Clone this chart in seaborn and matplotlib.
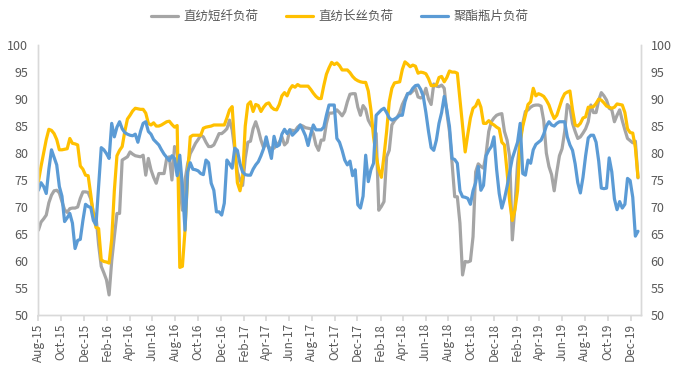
import matplotlib
matplotlib.use("Agg")
import matplotlib.pyplot as plt
from matplotlib.lines import Line2D
import seaborn as sns
import pandas as pd

# weekly load rates (%), Aug-2015 .. Dec-2019
weeks = pd.date_range("2015-08-01", periods=230, freq="7D")

staple = [  # 直纺短纤负荷
    65.7, 67.2, 67.8, 68.5, 70.8, 72.2, 73, 73.1, 72.6, 71,
    69.5, 69, 69.7, 69.8, 69.8, 70, 71.6, 72.8, 72.8, 72.7,
    71.5, 69, 68.3, 63, 59, 57.8, 56.5, 53.7, 60, 64.5,
    68.8, 68.8, 78.7, 79, 79.3, 80.2, 79.8, 79.5, 79.4, 79.3,
    79.6, 75.9, 79, 76.9, 75.5, 74.4, 76.2, 76.2, 76.2, 79,
    79.3, 75, 81.2, 80.6, 73.8, 69.4, 75, 78, 79.9, 80.8,
    81.8, 82.5, 83.3, 83, 82, 81.2, 81.2, 81.5, 82.5, 83.6,
    83.6, 84, 84.5, 86.1, 84.3, 80.6, 76.5, 75, 74, 79,
    82, 82.2, 84.5, 85.8, 84.3, 82.4, 81, 81.8, 81, 80.9,
    80.9, 81.5, 82, 83, 81.5, 82, 84.3, 84.2, 84.1, 84.8,
    85.2, 85, 84.7, 84.6, 84.5, 83.6, 81.5, 80.5, 82.4, 82.4,
    85.5, 87.4, 87.4, 87.5, 88, 87.5, 86.9, 87.7, 89.5, 90.9,
    91, 91, 88.5, 87, 88.8, 88.1, 86.1, 85.2, 84.5, 83.6,
    69.4, 70.1, 71, 79.3, 80.5, 85.2, 86, 86.6, 87.5, 89,
    90, 91, 91, 91.5, 92, 90.4, 90.2, 90.5, 92, 90,
    89, 92.8, 92.4, 92.3, 92.6, 92, 87.5, 84, 78.1, 71.9,
    71.9, 67, 57.4, 59.9, 59.8, 60, 64.5, 76.5, 78, 77.5,
    77.2, 79.9, 84, 85.8, 86.5, 87, 87.2, 87.3, 84, 82.4,
    79.3, 63.9, 70, 78, 82.5, 85.5, 87.7, 88, 88.5, 88.8,
    88.9, 88.9, 88.7, 86, 80, 77.5, 76, 73, 76.5, 79.5,
    80.8, 84, 89, 88.5, 85.5, 84, 82.7, 83, 83.7, 84.5,
    85.8, 88.9, 87.5, 87.5, 89.8, 91.2, 90.6, 89.8, 88.3, 88,
    85.8, 87, 88, 86, 84.3, 82.7, 82.3, 81.9, 82.2, 75.4,
]

filament = [  # 直纺长丝负荷
    74.7, 77.5, 80, 82.5, 84.4, 84.2, 83.6, 82.5, 80.6, 80.6,
    80.7, 80.8, 82.7, 81.8, 81.7, 81.5, 77.6, 77, 75.9, 75.8,
    72.3, 68.5, 66.2, 66, 60.2, 59.9, 59.8, 59.6, 64, 73,
    79.5, 80.5, 81.2, 84, 86.3, 87, 87.8, 88.3, 88.2, 88.1,
    88.1, 87.4, 85.5, 85.2, 85.6, 85, 85, 85.2, 85.5, 85.8,
    85.9, 85.3, 84.8, 85.1, 58.8, 59, 65.7, 76, 83, 83.3,
    83.3, 83.3, 83.3, 84.6, 84.8, 84.9, 85, 85.2, 85.2, 85.2,
    85.2, 85.2, 86.5, 88, 88.6, 81.2, 74.5, 73, 75.5, 85,
    89, 89.5, 87.7, 89, 88.8, 87.7, 88.5, 89.1, 89.3, 88.5,
    88.1, 88, 89, 90.6, 91.2, 90.6, 91.8, 92.5, 92.2, 92.7,
    92.4, 92.4, 92.4, 92.4, 91.8, 91.1, 90.5, 90.1, 90.1, 92.5,
    94.6, 95.8, 96.8, 96.4, 96.7, 96.2, 95.4, 95.4, 95.4, 94.9,
    94.2, 93.7, 93.4, 93.2, 93.1, 93.1, 91.5, 88, 83, 79.5,
    76.9, 75.5, 79.5, 84, 89.5, 92, 93, 93.1, 93.2, 95.5,
    96.9, 96.5, 96, 96.3, 96.1, 94.8, 95, 94.9, 94.7, 93.8,
    92.5, 92.5, 92.6, 94, 94.2, 93.2, 94, 95.2, 95, 95,
    94.8, 90, 85, 80.2, 83.5, 86.5, 88.3, 88.7, 89.8, 88.5,
    85.5, 85.5, 86, 85.5, 85.2, 84.8, 84.5, 82, 81.5, 76.5,
    71, 67.5, 69.5, 73, 82, 85, 87, 89, 89.5, 92,
    90.6, 91, 90.8, 90.5, 89.8, 88.9, 87.5, 86.4, 87, 88.5,
    90, 91, 91.3, 91.5, 88, 85.2, 85, 85.5, 86.5, 86.7,
    88.5, 88.5, 88.6, 89.2, 90, 89.8, 89.3, 88.7, 88.5, 88.3,
    88.5, 89.1, 89, 88.9, 87.5, 84.5, 83.8, 83.7, 81, 75.5,
]

chips = [  # 聚酯瓶片负荷
    73.1, 74.5, 73.8, 72.5, 77, 80.6, 79.2, 77.8, 73.8, 72,
    67.3, 68, 68.8, 67, 62.3, 63.8, 64, 67.5, 70.5, 70.1,
    69.9, 67.5, 66.7, 74, 81, 80.6, 79.9, 79, 85.5, 83,
    84.8, 85.8, 84.5, 83.8, 83.5, 83.3, 83.2, 83.5, 82, 84,
    85.5, 85.8, 84, 83.5, 82.5, 82, 81.5, 80.6, 79.8, 79.2,
    78.6, 79.5, 79, 75.8, 79.6, 73.8, 65.7, 76.5, 78.2, 77,
    76.9, 76.7, 76.2, 76, 78.7, 78.2, 74.4, 73.1, 69.1, 69.1,
    68.5, 70.7, 78.7, 78, 77.2, 80.9, 80.5, 78, 76.5, 76,
    75.9, 75.9, 77, 77.8, 78.4, 79.5, 80.8, 83, 80.9, 79,
    83.1, 81.2, 81.5, 83.5, 84.4, 83.6, 84.3, 83.3, 83.8, 84.3,
    85.2, 84.3, 83.2, 81.4, 83.5, 85.2, 84.3, 84.3, 84.3, 84.8,
    87, 88.9, 88.9, 88.9, 82.7, 82, 80.5, 78.7, 77.8, 78.5,
    75.8, 76.9, 70.4, 69.8, 72, 79.6, 74.7, 76.9, 78.1, 87,
    87.5, 88, 88.3, 87.5, 86.5, 86.1, 86.3, 86.6, 87, 87,
    89.5, 91, 91.2, 92, 92.5, 92.6, 91.8, 90.5, 87.5, 84,
    81, 80.5, 82.4, 85.5, 87.5, 90.5, 88, 84.9, 79, 78.8,
    78.1, 73, 71.9, 71.8, 71.6, 70.5, 73, 74.5, 77.5, 73.1,
    74, 79.5, 80.5, 81.2, 83, 77, 72.5, 69.8, 71.5, 73.8,
    76.5, 79, 80.5, 82, 85.5, 76.2, 75.9, 78.7, 78.1, 80.6,
    81.6, 82, 82.4, 83.5, 85, 85.8, 85.2, 85, 85.5, 85.8,
    85.8, 85.8, 83, 81.5, 80.5, 78, 74.5, 72.6, 75.5, 79.5,
    82.8, 83.3, 83.3, 82, 78.5, 73.5, 73.4, 73.5, 79.1, 76.5,
    71.5, 69.5, 71, 69.8, 70.5, 75.3, 74.9, 71.8, 64.6, 65.5,
]

names = ["直纺短纤负荷", "直纺长丝负荷", "聚酯瓶片负荷"]
colors = ["#A5A5A5", "#FFC000", "#5B9BD5"]

df = pd.concat([
    pd.DataFrame({"date": weeks, "load": vals, "series": n})
    for n, vals in zip(names, [staple, filament, chips])
])

sns.set_theme(style="white")
plt.rcParams["font.family"] = ["Noto Sans CJK SC", "DejaVu Sans"]

fig = plt.figure(figsize=(6.79, 3.67), dpi=100)
ax = fig.add_axes([0.056, 0.142, 0.888, 0.735])

sns.lineplot(data=df, x="date", y="load", hue="series", hue_order=names,
             palette=dict(zip(names, colors)), linewidth=2.3, legend=False, ax=ax)

axis_grey = "#D9D9D9"
text_grey = "#595959"
yt = list(range(50, 101, 5))

ax.set_ylim(50, 100)
ax.set_xlim(pd.Timestamp("2015-07-31"), pd.Timestamp("2019-12-29"))
ax.set_yticks(yt)
ax.set_xlabel("")
ax.set_ylabel("")

xt = pd.date_range("2015-08-01", "2019-12-01", freq="2MS")
ax.set_xticks(xt)
ax.set_xticklabels([d.strftime("%b-%y") for d in xt], rotation=90)

ax2 = ax.twinx()
ax2.set_ylim(50, 100)
ax2.set_yticks(yt)

for a in (ax, ax2):
    a.spines["top"].set_visible(False)
    for s in ("left", "right", "bottom"):
        a.spines[s].set_color(axis_grey)
        a.spines[s].set_linewidth(1)
    a.tick_params(axis="y", length=0, labelsize=9, labelcolor=text_grey, pad=7)
ax.tick_params(axis="x", length=4, color=axis_grey, labelsize=8.5,
               labelcolor=text_grey, pad=2, direction="out", bottom=True)

handles = [Line2D([], [], color=c, linewidth=2.3) for c in colors]
fig.legend(handles, names, loc="center", bbox_to_anchor=(0.5, 0.955), ncol=3,
           frameon=False, fontsize=9, handlelength=2.2, columnspacing=2.2,
           handletextpad=0.4, labelcolor=text_grey)

fig.savefig("out.png", dpi=100)
